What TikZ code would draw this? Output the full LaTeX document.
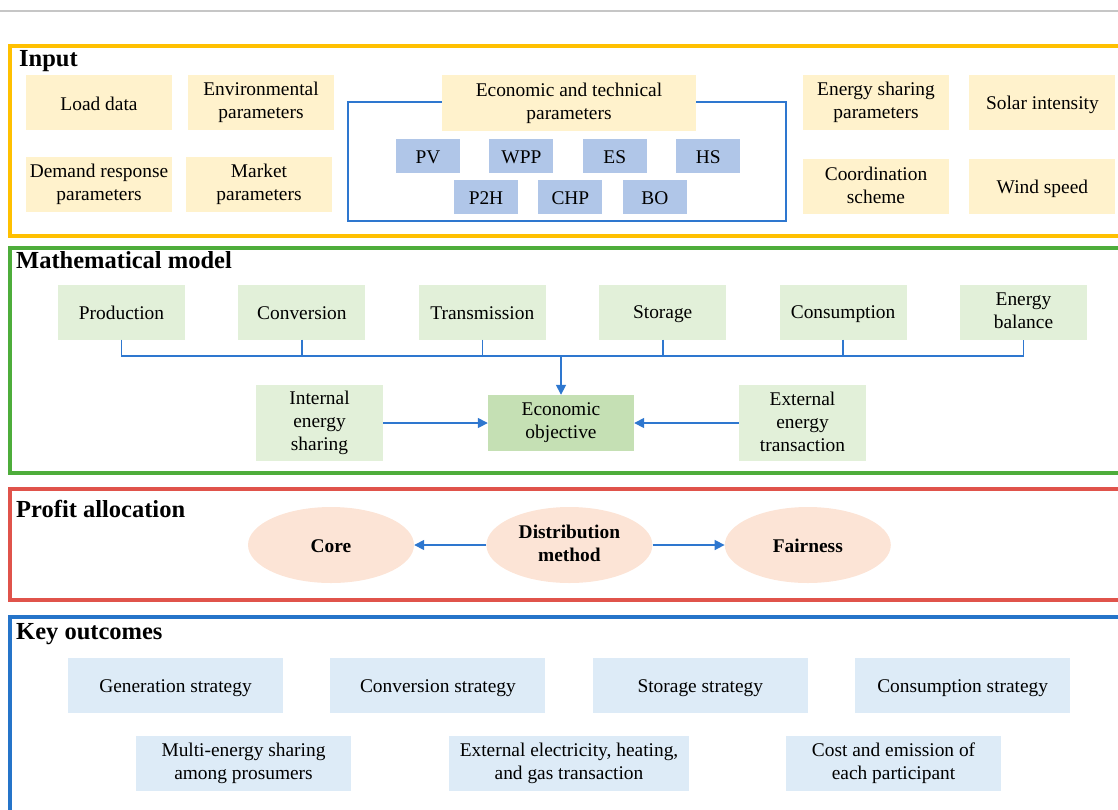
\documentclass[tikz,border=0pt]{standalone}
\usepackage{fontspec}
\setmainfont{Liberation Serif}
\usetikzlibrary{arrows.meta,positioning,shapes.geometric}

\definecolor{inyellow}{HTML}{FFF2CC}
\definecolor{techblue}{HTML}{B0C6E8}
\definecolor{modgreen}{HTML}{E2F0D9}
\definecolor{objgreen}{HTML}{C5E0B4}
\definecolor{ellpeach}{HTML}{FCE4D6}
\definecolor{outblue}{HTML}{DDEBF7}
\definecolor{frameorange}{HTML}{FFC000}
\definecolor{framegreen}{HTML}{4EAD3B}
\definecolor{framered}{HTML}{E0534B}
\definecolor{frameblue}{HTML}{2574C9}
\definecolor{linkblue}{HTML}{2E77CF}
\newcommand{\boxstrut}{\rule[-2.5pt]{0pt}{20.5pt}}

\begin{document}
\begin{tikzpicture}[x=1pt, y=-1pt, font=\fontsize{19.4}{23}\selectfont,
  every node/.append style={execute at begin node=\boxstrut, execute at end node=\boxstrut},
  inbox/.style={fill=inyellow, align=center, minimum width=146pt, minimum height=55pt, inner sep=1pt},
  techbox/.style={fill=techblue, minimum width=64pt, minimum height=34pt, inner sep=1pt},
  modbox/.style={fill=modgreen, align=center, minimum width=127pt, minimum height=55pt, inner sep=1pt},
  ellbox/.style={ellipse, fill=ellpeach, align=center, minimum width=166pt, minimum height=76pt, inner sep=1pt, font=\fontsize{19.4}{23}\selectfont\bfseries},
  outbox/.style={fill=outblue, align=center, minimum width=215pt, minimum height=55pt, inner sep=1pt},
  heading/.style={anchor=base west, inner sep=0pt, font=\fontsize{24.5}{28}\selectfont\bfseries},
  frame/.style={line width=3.6pt},
  line/.style={draw=linkblue, line width=1.6pt},
  arrow/.style={-{Triangle[length=10pt,width=10pt]}, draw=linkblue, line width=1.6pt}]
\clip (0,0) rectangle (1118,809);
\draw[gray!45, line width=1.2pt] (0,11) -- (1118,11);

% input
\draw[frame, draw=frameorange] (10,46) rectangle (1130,236);
\node[heading] (ttlinput) at (19,66) {Input};
\node[inbox] (load) at (99,102.5) {Load data};
\node[inbox] (env) at (261,102.5) {Environmental\\parameters};
\node[inbox] (dr) at (99,184.5) {Demand response\\parameters};
\node[inbox] (market) at (259,184.5) {Market\\parameters};
\node[draw=linkblue, line width=1.4pt, minimum width=438pt, minimum height=119pt] (techgrp) at (567,161.5) {};
\node[inbox, minimum width=254pt, minimum height=56pt] (ectech) at (569,103) {Economic and technical\\parameters};
\node[techbox] (pv) at (428,156) {PV};
\node[techbox, right=29pt of pv] (wpp) {WPP};
\node[techbox, right=29pt of wpp] (es) {ES};
\node[techbox, right=29pt of es] (hs) {HS};
\node[techbox] (p2h) at (486,197) {P2H};
\node[techbox, right=20pt of p2h] (chp) {CHP};
\node[techbox, right=20pt of chp] (bo) {BO};
\node[inbox] (share) at (876,102.5) {Energy sharing\\parameters};
\node[inbox, right=20pt of share] (solar) {Solar intensity};
\node[inbox] (coord) at (876,186.5) {Coordination\\scheme};
\node[inbox, right=20pt of coord] (wind) {Wind speed};

% mathematical model
\draw[frame, draw=framegreen] (10,248) rectangle (1130,473);
\node[heading] (ttlmodel) at (16,268) {Mathematical model};
\node[modbox] (prod) at (121.5,312) {Production};
\node[modbox, right=53pt of prod] (conv) {Conversion};
\node[modbox, right=53pt of conv] (trans) {Transmission};
\node[modbox, right=53pt of trans] (stor) {Storage};
\node[modbox, right=53pt of stor] (cons) {Consumption};
\node[modbox, right=53pt of cons] (bal) {Energy\\balance};
\node[modbox, minimum height=76pt] (intshare) at (319.5,423) {Internal\\energy\\sharing};
\node[modbox, fill=objgreen, minimum width=146pt, minimum height=56pt] (econ) at (561,423) {Economic\\objective};
\node[modbox, minimum height=76pt] (extrans) at (802.5,423) {External\\energy\\transaction};
\coordinate (bus) at (561,356);
\draw[line] (prod.south) -- (prod.south |- bus) -- (bal.south |- bus) -- (bal.south);
\foreach \n in {conv,trans,stor,cons} \draw[line] (\n.south) -- (\n.south |- bus);
\draw[arrow] (bus) -- (econ.north);
\draw[arrow] (intshare) -- (econ);
\draw[arrow] (extrans) -- (econ);

% profit allocation
\draw[frame, draw=framered] (10,489) rectangle (1130,600);
\node[heading] (ttlprofit) at (16,517) {Profit allocation};
\node[ellbox] (core) at (331,545) {Core};
\node[ellbox, right=72pt of core] (distr) {Distribution\\method};
\node[ellbox, right=72pt of distr] (fair) {Fairness};
\draw[arrow] (distr) -- (core);
\draw[arrow] (distr) -- (fair);

% key outcomes
\draw[frame, draw=frameblue] (10,617) rectangle (1130,830);
\node[heading] (ttloutcome) at (16,639) {Key outcomes};
\node[outbox] (gen) at (175.5,685.5) {Generation strategy};
\node[outbox, right=47pt of gen] (convstr) {Conversion strategy};
\node[outbox, right=47pt of convstr] (storstr) {Storage strategy};
\node[outbox, right=47pt of storstr] (consstr) {Consumption strategy};
\node[outbox] (multi) at (243.5,763.5) {Multi-energy sharing\\among prosumers};
\node[outbox, minimum width=240pt] (extel) at (569,763.5) {External electricity, heating,\\and gas transaction};
\node[outbox] (cost) at (893.5,763.5) {Cost and emission of\\each participant};
\end{tikzpicture}
\end{document}
